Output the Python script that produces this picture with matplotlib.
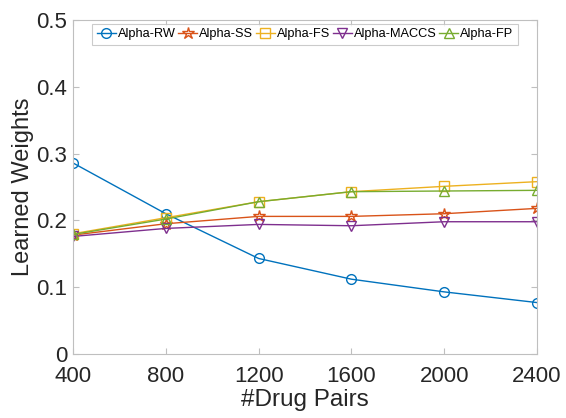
import matplotlib
matplotlib.use("Agg")
import matplotlib.pyplot as plt

plt.rcParams['font.family'] = ['Liberation Sans', 'DejaVu Sans']

pairs = [400, 800, 1200, 1600, 2000, 2400]
alpha_rw = [0.286, 0.210, 0.143, 0.112, 0.093, 0.077]
alpha_ss = [0.178, 0.195, 0.206, 0.206, 0.210, 0.218]
alpha_fs = [0.180, 0.204, 0.228, 0.243, 0.251, 0.258]
alpha_maccs = [0.176, 0.188, 0.194, 0.192, 0.198, 0.198]
alpha_fp = [0.179, 0.202, 0.228, 0.243, 0.244, 0.245]
names = ["Alpha-RW", "Alpha-SS", "Alpha-FS", "Alpha-MACCS", "Alpha-FP"]

series = [alpha_rw, alpha_ss, alpha_fs, alpha_maccs, alpha_fp]
colors = ["#0072BD", "#D95319", "#EDB120", "#7E2F8E", "#77AC30"]
markers = ["o", "*", "s", "v", "^"]
msizes = [7, 9, 6.5, 7.5, 7.5]

fig = plt.figure(figsize=(5.66, 4.18), dpi=100)
ax = fig.add_axes([73/566, 1-354/418, (537-73)/566, (354-20)/418])
for y, nm, c, m, ms in zip(series, names, colors, markers, msizes):
    ax.plot(pairs, y, color=c, marker=m, ms=ms, mfc="none", mec=c, mew=1.0,
            lw=1.0, label=nm)

ax.set_xlim(400, 2400); ax.set_ylim(0, 0.5)
ax.set_xticks(pairs)
ax.set_yticks([0, 0.1, 0.2, 0.3, 0.4, 0.5])
ax.set_yticklabels(["0", "0.1", "0.2", "0.3", "0.4", "0.5"])
ax.tick_params(direction="in", top=True, right=True, labelsize=16,
               colors="#bfbfbf", labelcolor="#262626", length=4)
ax.tick_params(axis="x", pad=9)
ax.tick_params(axis="y", pad=4)
for s in ax.spines.values():
    s.set_color("#bfbfbf"); s.set_linewidth(0.8)
ax.set_xlabel("#Drug Pairs", fontsize=17.5, color="#262626", labelpad=1)
ax.set_ylabel("Learned Weights", fontsize=17, color="#262626", labelpad=2)

leg = ax.legend(loc="upper center", ncol=5, fontsize=9.2, frameon=True,
                fancybox=False, handlelength=1.5, handletextpad=0.15,
                columnspacing=0.2, borderpad=0.35, borderaxespad=0.3,
                bbox_to_anchor=(0.5, 1.0))
leg.get_frame().set_edgecolor("#bfbfbf"); leg.get_frame().set_linewidth(0.8)

fig.savefig("out.png", dpi=100, facecolor="white")
